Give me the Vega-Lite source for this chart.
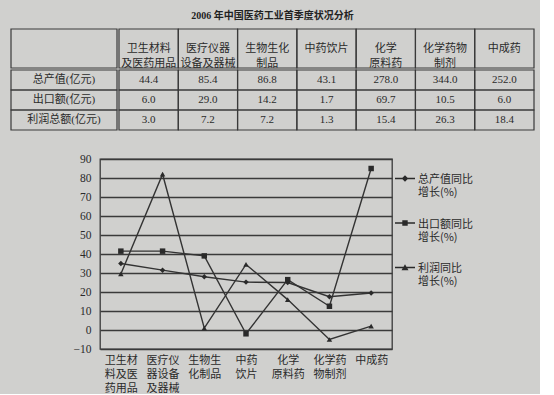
{
  "$schema": "https://vega.github.io/schema/vega-lite/v6.json",
  "background": "#d0d0ce",
  "padding": {"left": 10, "top": 11, "right": 5, "bottom": 0},
  "title": {"text": "2006 年中国医药工业首季度状况分析", "fontSize": 10, "fontWeight": "bold", "font": "Liberation Serif, Noto Sans CJK SC", "color": "#222222", "anchor": "middle", "offset": 7},
  "datasets": {
    "table": [
      {"metric": "总产值(亿元)", "col": "卫生材料|及医药用品", "value": 44.4},
      {"metric": "总产值(亿元)", "col": "医疗仪器|设备及器械", "value": 85.4},
      {"metric": "总产值(亿元)", "col": "生物生化|制品", "value": 86.8},
      {"metric": "总产值(亿元)", "col": "中药饮片", "value": 43.1},
      {"metric": "总产值(亿元)", "col": "化学|原料药", "value": 278.0},
      {"metric": "总产值(亿元)", "col": "化学药物|制剂", "value": 344.0},
      {"metric": "总产值(亿元)", "col": "中成药", "value": 252.0},
      {"metric": "出口额(亿元)", "col": "卫生材料|及医药用品", "value": 6.0},
      {"metric": "出口额(亿元)", "col": "医疗仪器|设备及器械", "value": 29.0},
      {"metric": "出口额(亿元)", "col": "生物生化|制品", "value": 14.2},
      {"metric": "出口额(亿元)", "col": "中药饮片", "value": 1.7},
      {"metric": "出口额(亿元)", "col": "化学|原料药", "value": 69.7},
      {"metric": "出口额(亿元)", "col": "化学药物|制剂", "value": 10.5},
      {"metric": "出口额(亿元)", "col": "中成药", "value": 6.0},
      {"metric": "利润总额(亿元)", "col": "卫生材料|及医药用品", "value": 3.0},
      {"metric": "利润总额(亿元)", "col": "医疗仪器|设备及器械", "value": 7.2},
      {"metric": "利润总额(亿元)", "col": "生物生化|制品", "value": 7.2},
      {"metric": "利润总额(亿元)", "col": "中药饮片", "value": 1.3},
      {"metric": "利润总额(亿元)", "col": "化学|原料药", "value": 15.4},
      {"metric": "利润总额(亿元)", "col": "化学药物|制剂", "value": 26.3},
      {"metric": "利润总额(亿元)", "col": "中成药", "value": 18.4}
    ],
    "growth": [
      {"cat": "卫生材|料及医|药用品", "series": "总产值同比|增长(%)", "value": 35},
      {"cat": "医疗仪|器设备|及器械", "series": "总产值同比|增长(%)", "value": 31.5},
      {"cat": "生物生|化制品", "series": "总产值同比|增长(%)", "value": 28},
      {"cat": "中药|饮片", "series": "总产值同比|增长(%)", "value": 25.2},
      {"cat": "化学|原料药", "series": "总产值同比|增长(%)", "value": 25},
      {"cat": "化学药|物制剂", "series": "总产值同比|增长(%)", "value": 17.5},
      {"cat": "中成药", "series": "总产值同比|增长(%)", "value": 19.5},
      {"cat": "卫生材|料及医|药用品", "series": "出口额同比|增长(%)", "value": 41.5},
      {"cat": "医疗仪|器设备|及器械", "series": "出口额同比|增长(%)", "value": 41.5},
      {"cat": "生物生|化制品", "series": "出口额同比|增长(%)", "value": 39},
      {"cat": "中药|饮片", "series": "出口额同比|增长(%)", "value": -2},
      {"cat": "化学|原料药", "series": "出口额同比|增长(%)", "value": 26.5},
      {"cat": "化学药|物制剂", "series": "出口额同比|增长(%)", "value": 12.5},
      {"cat": "中成药", "series": "出口额同比|增长(%)", "value": 85},
      {"cat": "卫生材|料及医|药用品", "series": "利润同比|增长(%)", "value": 29.5},
      {"cat": "医疗仪|器设备|及器械", "series": "利润同比|增长(%)", "value": 82},
      {"cat": "生物生|化制品", "series": "利润同比|增长(%)", "value": 1},
      {"cat": "中药|饮片", "series": "利润同比|增长(%)", "value": 34.5},
      {"cat": "化学|原料药", "series": "利润同比|增长(%)", "value": 16},
      {"cat": "化学药|物制剂", "series": "利润同比|增长(%)", "value": -5},
      {"cat": "中成药", "series": "利润同比|增长(%)", "value": 2}
    ]
  },
  "spacing": 21,
  "vconcat": [
    {
      "columns": 2,
      "spacing": 0,
      "concat": [
        {
          "width": 106, "height": 39,
          "data": {"name": "table"},
          "transform": [{"filter": "datum.metric === '总产值(亿元)' && datum.col === '中成药'"}],
          "mark": {"type": "rect", "fill": null, "stroke": "#3a3a3a", "strokeWidth": 1.2},
          "encoding": {"x": {"value": 0}, "x2": {"value": "width"}, "y": {"value": 0}, "y2": {"value": "height"}}
        },
        {
          "width": 415, "height": 39,
          "data": {"name": "table"},
          "transform": [{"filter": "datum.metric === '总产值(亿元)'"}],
          "encoding": {
            "x": {"field": "col", "type": "nominal", "sort": null, "scale": {"type": "band", "paddingInner": 0, "paddingOuter": 0},
                  "axis": {"title": null, "labels": false, "ticks": false, "domain": false, "grid": false}}
          },
          "layer": [
            {"mark": {"type": "rect", "fill": null, "stroke": "#3a3a3a", "strokeWidth": 1.2},
             "encoding": {"y": {"value": 0}, "y2": {"value": "height"}}},
            {"mark": {"type": "text", "fontSize": 11, "lineHeight": 15, "lineBreak": "|", "baseline": "middle", "color": "#2a2a2a", "font": "Liberation Serif, Noto Sans CJK SC"},
             "encoding": {"text": {"field": "col", "type": "nominal"}}}
          ]
        },
        {
          "width": 106, "height": 60,
          "data": {"name": "table"},
          "transform": [{"filter": "datum.col === '中成药'"}],
          "encoding": {
            "y": {"field": "metric", "type": "nominal", "sort": null, "scale": {"type": "band", "paddingInner": 0, "paddingOuter": 0},
                  "axis": {"title": null, "labels": false, "ticks": false, "domain": false, "grid": false}}
          },
          "layer": [
            {"mark": {"type": "rect", "fill": null, "stroke": "#3a3a3a", "strokeWidth": 1.2},
             "encoding": {"x": {"value": 0}, "x2": {"value": "width"}}},
            {"mark": {"type": "text", "fontSize": 11, "color": "#2a2a2a", "font": "Liberation Serif, Noto Sans CJK SC"},
             "encoding": {"text": {"field": "metric", "type": "nominal"}}}
          ]
        },
        {
          "width": 415, "height": 60,
          "data": {"name": "table"},
          "encoding": {
            "x": {"field": "col", "type": "nominal", "sort": null, "scale": {"type": "band", "paddingInner": 0, "paddingOuter": 0},
                  "axis": {"title": null, "labels": false, "ticks": false, "domain": false, "grid": false}},
            "y": {"field": "metric", "type": "nominal", "sort": null, "scale": {"type": "band", "paddingInner": 0, "paddingOuter": 0},
                  "axis": {"title": null, "labels": false, "ticks": false, "domain": false, "grid": false}}
          },
          "layer": [
            {"mark": {"type": "rect", "fill": null, "stroke": "#3a3a3a", "strokeWidth": 1.2}},
            {"mark": {"type": "text", "fontSize": 11, "color": "#2a2a2a", "font": "Liberation Serif, Noto Sans CJK SC"},
             "encoding": {"text": {"field": "value", "type": "quantitative", "format": ".1f"}}}
          ]
        }
      ]
    },
    {
      "spacing": 0,
      "hconcat": [
        {
          "width": 1, "height": 1,
          "data": {"values": [{}]},
          "mark": {"type": "text", "text": ""},
          "encoding": {}
        },
        {
          "width": 292, "height": 190,
          "view": {"stroke": "#3a3a3a", "strokeWidth": 1.3},
          "data": {"name": "growth"},
          "encoding": {
            "x": {"field": "cat", "type": "nominal", "sort": null, "scale": {"type": "point", "padding": 0.5},
                  "axis": {"title": null, "labelAngle": 0, "domain": false, "ticks": false, "labelExpr": "split(datum.label, '|')", "labelFontSize": 11, "labelLineHeight": 14, "labelPadding": 5, "labelBaseline": "top", "labelColor": "#2a2a2a", "labelFont": "Noto Sans CJK SC", "labelLimit": 0}},
            "y": {"field": "value", "type": "quantitative", "scale": {"domain": [-10, 90], "nice": false, "zero": false},
                  "axis": {"title": null, "minExtent": 87, "values": [-10, 0, 10, 20, 30, 40, 50, 60, 70, 80, 90], "grid": true, "gridColor": "#3a3a3a", "gridWidth": 1.6, "gridOpacity": 1, "domain": false, "ticks": false, "labelPadding": 9, "labelFontSize": 11.5, "labelFont": "Liberation Serif", "labelColor": "#2a2a2a"}}
          },
          "layer": [
            {
              "mark": {"type": "line", "color": "#333333", "strokeWidth": 1.4},
              "encoding": {"detail": {"field": "series", "type": "nominal"}}
            },
            {
              "mark": {"type": "point", "filled": true, "color": "#2a2a2a", "opacity": 1, "size": 30},
              "encoding": {"shape": {"field": "series", "type": "nominal", "scale": {"domain": ["总产值同比|增长(%)", "出口额同比|增长(%)", "利润同比|增长(%)"], "range": ["diamond", "square", "triangle-up"]}, "legend": null}}
            },
            {
              "mark": {"type": "point", "filled": true, "color": "#2a2a2a", "opacity": 0, "size": 400},
              "encoding": {"shape": {"field": "series", "type": "nominal",
                "scale": {"domain": ["总产值同比|增长(%)", "出口额同比|增长(%)", "利润同比|增长(%)"],
                          "range": ["M-1,0.38H1V0.52H-1ZM0,0.12L0.33,0.45L0,0.78L-0.33,0.45Z", "M-1,0.38H1V0.52H-1ZM-0.27,0.18H0.27V0.72H-0.27Z", "M-1,0.38H1V0.52H-1ZM0,0.12L0.35,0.72H-0.35Z"]},
                "legend": {"title": null, "orient": "none", "legendX": 295, "legendY": 5, "padding": 0, "symbolOpacity": 1, "symbolFillColor": "#2a2a2a", "symbolStrokeColor": "#2a2a2a", "symbolStrokeWidth": 0, "symbolSize": 400, "labelExpr": "split(datum.label, '|')", "labelFontSize": 11, "labelLineHeight": 14, "labelBaseline": "top", "labelOffset": 3, "labelLimit": 0, "labelColor": "#2a2a2a", "labelFont": "Noto Sans CJK SC", "rowPadding": 10.5,
                  "encode": {"symbols": {"update": {"opacity": {"value": 1}, "fill": {"value": "#2a2a2a"}, "fillOpacity": {"value": 1}}}}}}}
            }
          ],
          "resolve": {"scale": {"shape": "independent"}}
        }
      ]
    }
  ],
  "config": {
    "view": {"stroke": null},
    "text": {"font": "Noto Sans CJK SC"}
  }
}
